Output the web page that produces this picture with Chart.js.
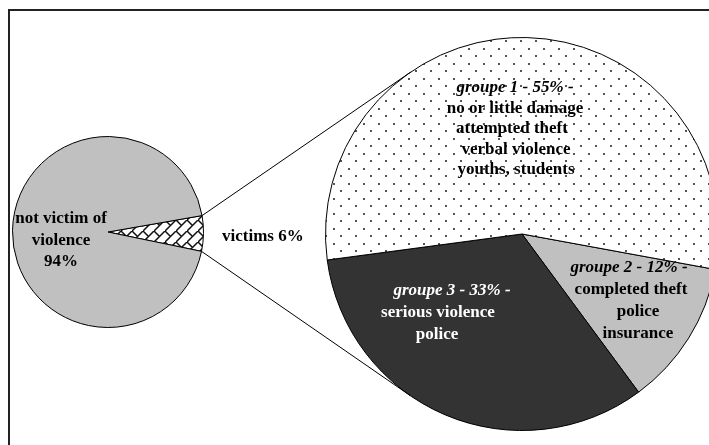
<!DOCTYPE html>
<html>
<head>
<meta charset="utf-8">
<script src="https://cdn.jsdelivr.net/npm/chart.js@4/dist/chart.umd.min.js"></script>
<style>
  html, body { margin: 0; padding: 0; background: #fff; }
  #wrap { position: relative; width: 709px; height: 445px; overflow: hidden; }
  #frame { position: absolute; left: 8px; top: 9px; width: 760px; height: 480px;
           border-top: 2px solid #222; border-left: 2px solid #222; }
  canvas { position: absolute; left: 0; top: 0; }
</style>
</head>
<body>
<div id="wrap">
  <div id="frame"></div>
  <canvas id="chartPetit" width="709" height="445"></canvas>
  <canvas id="chartGrand" width="800" height="445"></canvas>
</div>
<script>
// ---- Données ----
const petitLabels = ['victims', 'not victim of violence'];
const petitValeurs = [6, 94];
const petitTextes = [['victims 6%'], ['not victim of', 'violence', '94%']];

const grandLabels = ['groupe 2', 'groupe 3', 'groupe 1'];
const grandValeurs = [12, 33, 55];
const grandTextes = [
  ['groupe 2 - 12% -', 'completed theft', 'police', 'insurance'],
  ['groupe 3 - 33% -', 'serious violence', 'police'],
  ['groupe 1 - 55% -', 'no or little damage', 'attempted theft', 'verbal violence', 'youths, students'],
];

(function () {
  const SERIF = "'Liberation Serif', 'Times New Roman', serif";

  // motifs de remplissage
  function motifPoints() {
    const c = document.createElement('canvas');
    c.width = 15; c.height = 15;
    const g = c.getContext('2d');
    g.fillStyle = '#fff'; g.fillRect(0, 0, 15, 15);
    g.fillStyle = '#555';
    g.fillRect(3, 3, 2, 2);
    g.fillRect(10, 10, 2, 2);
    return g.createPattern(c, 'repeat');
  }
  function motifBriques() {
    const c = document.createElement('canvas');
    c.width = 11; c.height = 11;
    const g = c.getContext('2d');
    g.fillStyle = '#fff'; g.fillRect(0, 0, 11, 11);
    g.strokeStyle = '#111'; g.lineWidth = 1.5;
    g.beginPath();
    g.moveTo(-1, 12); g.lineTo(12, -1);
    g.moveTo(0, 0); g.lineTo(5.5, 5.5);
    g.stroke();
    return g.createPattern(c, 'repeat');
  }

  // placement des étiquettes (décalages en px depuis le centre du camembert)
  const placePetit = [
    { dx: 114, dy: 5, lh: 21, align: 'left', shift: [0] },
    { dx: -47, dy: -13, lh: 21.5, align: 'center', shift: [0, 0, 0] },
  ];
  const placeGrand = [
    { dx: 107, dy: 34, lh: 22, align: 'center', shift: [0, 2, 9, 9], color: '#000' },
    { dx: -82, dy: 57, lh: 22, align: 'center', shift: [12, -2, -3], color: '#fff' },
    { dx: -7, dy: -146, lh: 20.5, align: 'center', shift: [0, 0, -3, 1, 1], color: '#000' },
  ];

  function pluginTextes(textes, places, italiqueTitre) {
    return {
      id: 'textes',
      afterDatasetsDraw(chart) {
        const ctx = chart.ctx;
        const arcs = chart.getDatasetMeta(0).data;
        ctx.save();
        ctx.textBaseline = 'middle';
        arcs.forEach((arc, i) => {
          const p = places[i];
          ctx.fillStyle = p.color || '#000';
          ctx.textAlign = p.align;
          textes[i].forEach((ligne, k) => {
            const ital = italiqueTitre && k === 0;
            ctx.font = (ital ? 'italic ' : '') + 'bold 17px ' + SERIF;
            ctx.fillText(ligne, arc.x + p.dx + (p.shift[k] || 0), arc.y + p.dy + k * p.lh);
          });
        });
        ctx.restore();
      },
    };
  }

  const base = {
    responsive: false,
    animation: false,
    events: [],
    plugins: { legend: { display: false }, tooltip: { enabled: false } },
  };

  const petit = new Chart(document.getElementById('chartPetit'), {
    type: 'pie',
    data: {
      labels: petitLabels,
      datasets: [{
        data: petitValeurs,
        backgroundColor: [motifBriques(), '#c0c0c0'],
        borderColor: '#000', borderWidth: 1,
      }],
    },
    options: Object.assign({}, base, {
      rotation: 80.1,
      layout: { padding: { left: 12, top: 136, right: 505, bottom: 117 } },
    }),
    plugins: [pluginTextes(petitTextes, placePetit, false)],
  });

  // lignes de liaison entre la part "victims" et le grand camembert
  const liaison = {
    id: 'liaison',
    afterDraw(chart) {
      const a = petit.getDatasetMeta(0).data[0];
      const b = chart.getDatasetMeta(0).data[0];
      const R = b.outerRadius;
      const ctx = chart.ctx;
      ctx.save();
      ctx.strokeStyle = '#000'; ctx.lineWidth = 1;
      [[a.startAngle, 1], [a.endAngle, -1]].forEach(([ang, sens]) => {
        const px = a.x + a.outerRadius * Math.cos(ang);
        const py = a.y + a.outerRadius * Math.sin(ang);
        const d = Math.hypot(px - b.x, py - b.y);
        const th = Math.atan2(py - b.y, px - b.x) + sens * Math.acos(R / d);
        ctx.beginPath();
        ctx.moveTo(px, py);
        ctx.lineTo(b.x + R * Math.cos(th), b.y + R * Math.sin(th));
        ctx.stroke();
      });
      ctx.restore();
    },
  };

  new Chart(document.getElementById('chartGrand'), {
    type: 'pie',
    data: {
      labels: grandLabels,
      datasets: [{
        data: grandValeurs,
        backgroundColor: ['#c0c0c0', '#333333', motifPoints()],
        borderColor: '#000', borderWidth: 1,
      }],
    },
    options: Object.assign({}, base, {
      rotation: 100.4,
      layout: { padding: { left: 325, top: 37, right: 81, bottom: 14 } },
    }),
    plugins: [pluginTextes(grandTextes, placeGrand, true), liaison],
  });
}());
</script>
</body>
</html>
